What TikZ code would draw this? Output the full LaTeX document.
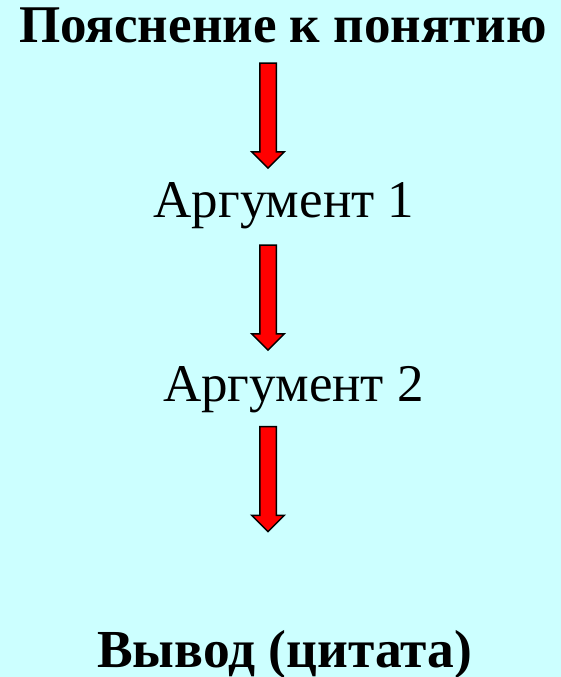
\documentclass[tikz,border=0pt]{standalone}
\usepackage{fontspec}
\setmainfont{Liberation Serif}
\usepackage{xcolor}
\usetikzlibrary{shapes.arrows}
\definecolor{bgcyan}{HTML}{CCFFFF}
\tikzset{
	heading/.style={anchor=base, inner sep=0pt, font=\fontsize{53}{60}\selectfont\bfseries},
	argtext/.style={anchor=base, inner sep=0pt, font=\fontsize{53}{60}\selectfont},
	downarrow/.style={single arrow, rotate=-90, draw=black, fill=red, line width=1.5pt,
		minimum height=105pt, minimum width=32pt, inner sep=7.5pt,
		single arrow head extend=8pt, single arrow tip angle=90},
}
\begin{document}
\begin{tikzpicture}[x=1pt, y=-1pt]
		% the background
		\fill[bgcyan] (0,0) rectangle (561,677);
		\useasboundingbox (0,0) rectangle (561,677);

		% the texts
		\node[heading] (expl) at (283,43) {Пояснение к понятию};
		\node[argtext] (arg1) at (284,217) {Аргумент 1};
		\node[argtext] (arg2) at (293.5,401) {Аргумент 2};
		\node[heading, font=\fontsize{53.5}{60}\selectfont\bfseries] (concl) at (284.5,667) {Вывод (цитата)};

		% the arrows
		\node[downarrow] (arr1) at (268,111.5) {};
		\node[downarrow] (arr2) at (268,293.5) {};
		\node[downarrow] (arr3) at (268,475) {};
	\end{tikzpicture}
\end{document}
